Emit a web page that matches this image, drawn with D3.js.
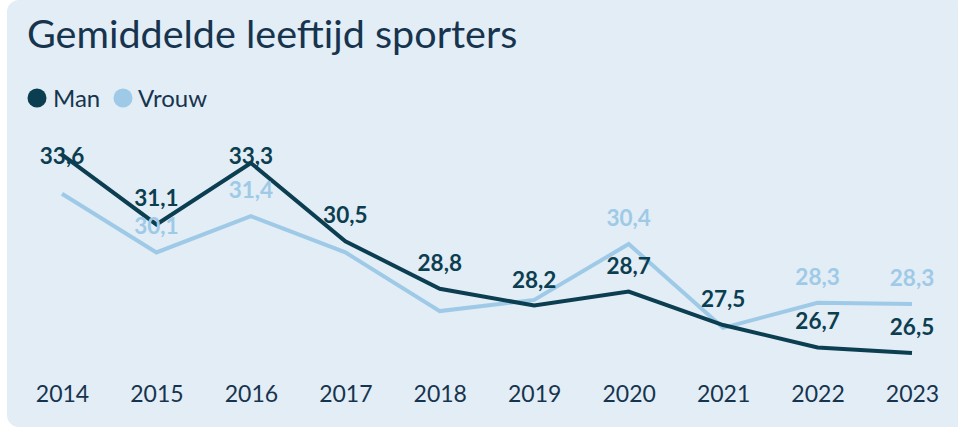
<!DOCTYPE html>
<html><head><meta charset="utf-8">
<script src="https://cdn.jsdelivr.net/npm/d3@7"></script>
<style>html,body{margin:0;padding:0;background:#fff;}svg{display:block;}</style>
</head><body>
<svg id="c" width="958" height="431"></svg>
<script>
const years = ["2014","2015","2016","2017","2018","2019","2020","2021","2022","2023"];
const man   = [33.6, 31.1, 33.3, 30.5, 28.8, 28.2, 28.7, 27.5, 26.7, 26.5];
const vrouw = [32.2, 30.1, 31.4, 30.1, 28.0, 28.4, 30.4, 27.4, 28.3, 28.25];
const manLabels   = ["33,6","31,1","33,3","30,5","28,8","28,2","28,7","27,5","26,7","26,5"];
const vrouwLabels = ["","30,1","31,4","","","","30,4","","28,3","28,3"];
const title = "Gemiddelde leeftijd sporters";
const seriesNames = ["Man","Vrouw"];

const C = {man:"#0c3e51", vrouw:"#9ecae7", text:"#17344f", bg:"#e2edf5"};
const svg = d3.select("#c");
const font = "Lato, 'Open Sans', sans-serif";

svg.append("rect").attr("x",7).attr("y",0).attr("width",960).attr("height",427)
  .attr("rx",12).attr("fill",C.bg);

svg.append("text").attr("x",27).attr("y",48).attr("font-family",font)
  .attr("font-size",39.5).attr("fill",C.text).text(title);

// legend
const leg = [{n:seriesNames[0],c:C.man,cx:37,tx:53},{n:seriesNames[1],c:C.vrouw,cx:123,tx:138}];
leg.forEach(l=>{
  svg.append("circle").attr("cx",l.cx).attr("cy",98).attr("r",9.5).attr("fill",l.c);
  svg.append("text").attr("x",l.tx).attr("y",107).attr("font-family",font)
    .attr("font-size",24).attr("fill",C.text).text(l.n);
});

const x = d3.scalePoint().domain(years).range([62,912]);
const y = d3.scaleLinear().domain([26.5,33.3]).range([353,163]);

const xAxis = svg.append("g").attr("transform","translate(0,386)")
  .call(d3.axisBottom(x).tickSize(0).tickPadding(0));
xAxis.select(".domain").remove();
xAxis.selectAll("text").attr("font-family",font).attr("font-size",23)
  .attr("fill",C.text).attr("dy","0.71em");

const line = d3.line().x((d,i)=>x(years[i])).y(d=>y(d));
svg.append("path").datum(vrouw).attr("d",line).attr("fill","none")
  .attr("stroke",C.vrouw).attr("stroke-width",4).attr("stroke-linejoin","miter");
svg.append("path").datum(man).attr("d",line).attr("fill","none")
  .attr("stroke",C.man).attr("stroke-width",4).attr("stroke-linejoin","miter");

function labels(vals, labs, color){
  const pts = vals.map((v,i)=>({v, year:years[i], lab:labs[i]})).filter(p=>p.lab!=="");
  svg.append("g").selectAll("text").data(pts).join("text")
    .attr("x",p=>x(p.year))
    .attr("y",p=>Math.max(y(p.v)-18,164))
    .attr("text-anchor","middle").attr("font-family",font).attr("font-weight",700)
    .attr("font-size",22.5).attr("fill",color)
    .text(p=>p.lab);
}
labels(vrouw, vrouwLabels, C.vrouw);
labels(man, manLabels, C.man);
</script>
</body></html>
